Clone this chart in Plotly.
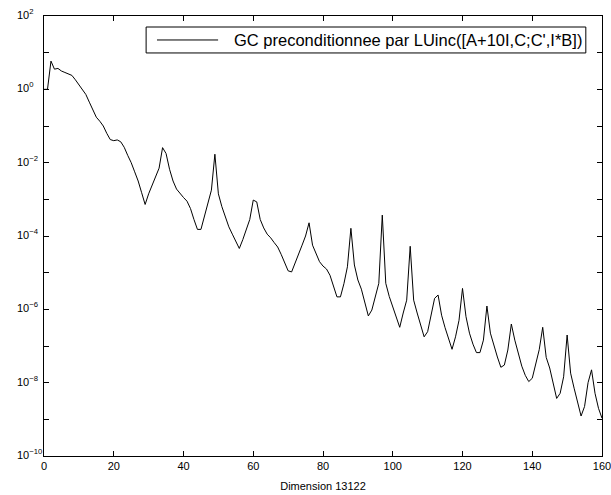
import plotly.graph_objects as go

iterations = list(range(0, 161))
log_residual = [
    0.0, 0.0, 0.77, 0.55, 0.57, 0.50, 0.46, 0.42, 0.38, 0.26,
    0.12, -0.02, -0.14, -0.35, -0.58, -0.76, -0.87, -1.0, -1.2, -1.37,
    -1.40, -1.38, -1.43, -1.58, -1.8, -2.0, -2.25, -2.5, -2.82, -3.14,
    -2.85, -2.62, -2.43, -2.15, -1.59, -1.75, -2.18, -2.5, -2.72, -2.85,
    -2.95, -3.05, -3.25, -3.55, -3.82, -3.82, -3.45, -3.1, -2.75, -1.77,
    -2.85, -3.2, -3.5, -3.75, -3.95, -4.15, -4.34, -4.1, -3.85, -3.55,
    -3.02, -3.07, -3.55, -3.78, -3.95, -4.05, -4.18, -4.3, -4.5, -4.75,
    -4.95, -4.98, -4.75, -4.5, -4.25, -4.0, -3.64, -4.25, -4.5, -4.7,
    -4.82, -4.9, -5.07, -5.35, -5.66, -5.66, -5.3, -4.84, -3.79, -4.79,
    -5.2, -5.45, -5.8, -6.18, -6.02, -5.65, -5.29, -3.43, -5.29, -5.65,
    -5.95, -6.25, -6.49, -6.1, -5.75, -4.28, -5.75, -6.1, -6.45, -6.75,
    -6.61, -6.15, -5.70, -5.61, -6.16, -6.5, -6.8, -7.09, -6.75, -6.3,
    -5.43, -6.2, -6.65, -6.95, -7.18, -7.18, -6.84, -5.91, -6.65, -7.0,
    -7.3, -7.58, -7.52, -7.11, -6.40, -6.84, -7.2, -7.55, -7.8, -7.97,
    -7.88, -7.5, -7.1, -6.49, -7.31, -7.6, -8.0, -8.43, -8.29, -7.84,
    -6.70, -7.74, -8.15, -8.55, -8.91, -8.65, -8.0, -7.65, -8.29, -8.7,
    -8.97,
]
residual = [10 ** v for v in log_residual]

x_ticks = [0, 20, 40, 60, 80, 100, 120, 140, 160]
y_major_exponents = [-10, -8, -6, -4, -2, 0, 2]
y_all_exponents = list(range(-10, 3))
y_ticktext = ["10<sup>" + str(e).replace("-", "\u2212") + "</sup>" for e in y_major_exponents]

legend_label = "GC preconditionnee par LUinc([A+10I,C;C',I*B])"
x_title = "Dimension 13122"

font_family = "Liberation Sans, Arial, Helvetica, sans-serif"

fig = go.Figure()
fig.add_trace(go.Scatter(
    x=iterations, y=residual, mode="lines", name=legend_label,
    line=dict(color="black", width=1), showlegend=False,
))
# transparent copy so the mirrored (top/right) tick axes are drawn
fig.add_trace(go.Scatter(
    x=iterations, y=residual, mode="lines", xaxis="x2", yaxis="y2",
    line=dict(color="rgba(0,0,0,0)", width=1), showlegend=False, hoverinfo="skip",
))

tick_style = dict(ticks="inside", ticklen=5, tickwidth=1, tickcolor="black",
                  showline=True, linecolor="black", linewidth=1,
                  showgrid=False, zeroline=False, automargin=False)

y_annotations = [
    dict(text=txt, xref="paper", yref="y", x=-0.0525, y=e, xanchor="left", yanchor="middle",
         yshift=2, showarrow=False, font=dict(size=11, family=font_family))
    for e, txt in zip(y_major_exponents, y_ticktext)
]

fig.update_layout(
    width=611, height=495,
    margin=dict(l=44, r=9, t=16, b=39),
    paper_bgcolor="white", plot_bgcolor="white",
    font=dict(family=font_family, color="black", size=11),
    xaxis=dict(
        range=[0, 160], tickvals=x_ticks, ticklabeloverflow="allow",
        title=dict(text=x_title, font=dict(size=11), standoff=11),
        tickfont=dict(size=11), **tick_style,
    ),
    xaxis2=dict(
        range=[0, 160], tickvals=x_ticks, overlaying="x", side="top", anchor="y2",
        showticklabels=False, **tick_style,
    ),
    yaxis=dict(
        type="log", range=[-10, 2], tickvals=[10 ** e for e in y_all_exponents],
        showticklabels=False, **tick_style,
    ),
    yaxis2=dict(
        type="log", range=[-10, 2], tickvals=[10 ** e for e in y_all_exponents],
        overlaying="y", side="right", anchor="x2",
        showticklabels=False, **tick_style,
    ),
    shapes=[
        dict(type="rect", xref="paper", yref="paper", x0=0.183, x1=0.971, y0=0.916, y1=0.975,
             line=dict(color="black", width=1), fillcolor="white", layer="above"),
        dict(type="line", xref="paper", yref="paper", x0=0.2025, x1=0.312, y0=0.9455, y1=0.9455,
             line=dict(color="black", width=1), layer="above"),
    ],
    annotations=y_annotations + [
        dict(text=legend_label, xref="paper", yref="paper", x=0.337, y=0.9455,
             xanchor="left", yanchor="middle", showarrow=False,
             font=dict(size=16.5, family=font_family)),
    ],
)

fig.write_html("out.html", config={"displayModeBar": False},
               post_script="document.body.style.margin='0';")
